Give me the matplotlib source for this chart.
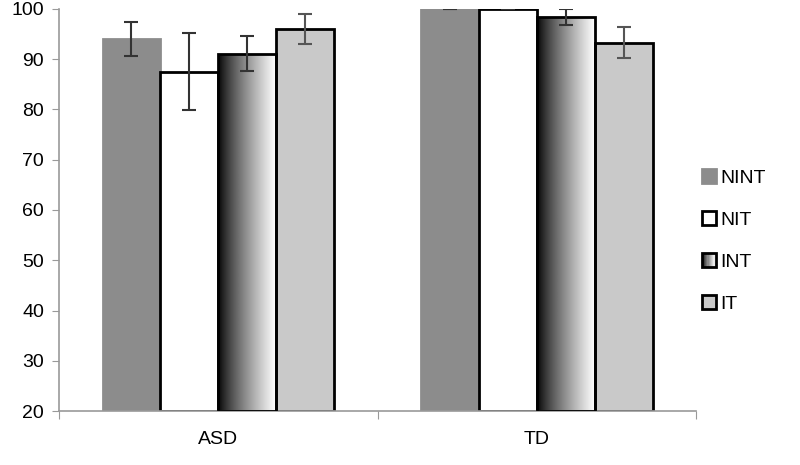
import matplotlib
matplotlib.use('Agg')
import matplotlib.pyplot as plt
import numpy as np
from matplotlib.patches import Rectangle
from matplotlib.legend_handler import HandlerBase

groups = ['ASD', 'TD']
conditions = ['NINT', 'NIT', 'INT', 'IT']
means = {
    'NINT': [94.0, 100.0],
    'NIT': [87.5, 100.0],
    'INT': [91.1, 98.3],
    'IT': [96.0, 93.3],
}
errors = {
    'NINT': [3.3, 0.0],
    'NIT': [7.7, 0.0],
    'INT': [3.4, 1.6],
    'IT': [2.9, 3.0],
}

fills = {'NINT': '#8c8c8c', 'NIT': 'white', 'INT': None, 'IT': '#c9c9c9'}
edges = {'NINT': '#8c8c8c', 'NIT': 'black', 'INT': 'black', 'IT': 'black'}

plt.rcParams['font.family'] = ['Liberation Sans', 'DejaVu Sans']

fig = plt.figure(figsize=(8, 4.65), dpi=100)
ax = fig.add_axes([0.074, 0.116, 0.796, 0.865])

width = 0.182
x = np.arange(len(groups))
grad = np.linspace(0, 1, 256).reshape(1, -1) ** 0.8

for i, cond in enumerate(conditions):
    pos = x + (i - 1.5) * width
    if cond == 'INT':
        bars = ax.bar(pos, np.array(means[cond]) - 20, width, bottom=20,
                      color='none', edgecolor='black', linewidth=2, zorder=3)
        for b in bars:
            im = ax.imshow(grad, cmap='gray', extent=[b.get_x(), b.get_x() + b.get_width(), 20, 20 + b.get_height()],
                           aspect='auto', zorder=2, vmin=0, vmax=1)
            im.set_clip_path(b)
    else:
        ax.bar(pos, np.array(means[cond]) - 20, width, bottom=20,
               color=fills[cond], edgecolor=edges[cond], linewidth=2, zorder=2)
    ecol = '#333333' if cond != 'IT' else '#555555'
    ax.errorbar(pos, means[cond], yerr=errors[cond], fmt='none', ecolor=ecol,
                elinewidth=1.5, capsize=5, capthick=1.5, zorder=4)

ax.set_xlim(-0.5, 1.5)
ax.set_ylim(20, 100)
ax.set_yticks(range(20, 101, 10))
ax.set_xticks([-0.5, 0.5, 1.5])
ax.set_xticklabels([])
ax.set_xticks(x, minor=True)
ax.set_xticklabels(groups, minor=True)
ax.tick_params(axis='x', which='minor', length=0, pad=14, labelsize=14)
ax.tick_params(axis='x', which='major', length=6, color='#999999', direction='out')
ax.tick_params(axis='y', length=5, color='#999999', labelsize=14, pad=6)
for s in ['top', 'right']:
    ax.spines[s].set_visible(False)
ax.spines['left'].set_color('#999999')
ax.spines['bottom'].set_color('#999999')
ax.spines['left'].set_linewidth(1.2)
ax.spines['bottom'].set_linewidth(1.2)


class GradientHandler(HandlerBase):
    def create_artists(self, legend, orig_handle, xdescent, ydescent, width, height, fontsize, trans):
        n = 12
        w = height
        arts = []
        for k in range(n):
            g = (k / (n - 1)) ** 0.8
            arts.append(Rectangle((-xdescent + k * w / n, -ydescent), w / n, height,
                                  facecolor=str(g), edgecolor='none', transform=trans))
        arts.append(Rectangle((-xdescent, -ydescent), w, height, facecolor='none',
                              edgecolor='black', linewidth=2, transform=trans))
        return arts


class SquareHandler(HandlerBase):
    def create_artists(self, legend, orig_handle, xdescent, ydescent, width, height, fontsize, trans):
        r = Rectangle((-xdescent, -ydescent), height, height, facecolor=orig_handle.get_facecolor(),
                      edgecolor=orig_handle.get_edgecolor(), linewidth=2, transform=trans)
        return [r]


handles = []
hmap = {}
for cond in conditions:
    if cond == 'INT':
        h = Rectangle((0, 0), 1, 1)
        hmap[h] = GradientHandler()
    else:
        h = Rectangle((0, 0), 1, 1, facecolor=fills[cond], edgecolor=edges[cond])
        hmap[h] = SquareHandler()
    handles.append(h)

leg = fig.legend(handles, conditions, handler_map=hmap, loc='upper left',
                 bbox_to_anchor=(0.855, 0.675), frameon=False, fontsize=14,
                 handlelength=0.75, handleheight=0.75, handletextpad=0.2, labelspacing=1.25)

fig.savefig('out.png', dpi=100)
